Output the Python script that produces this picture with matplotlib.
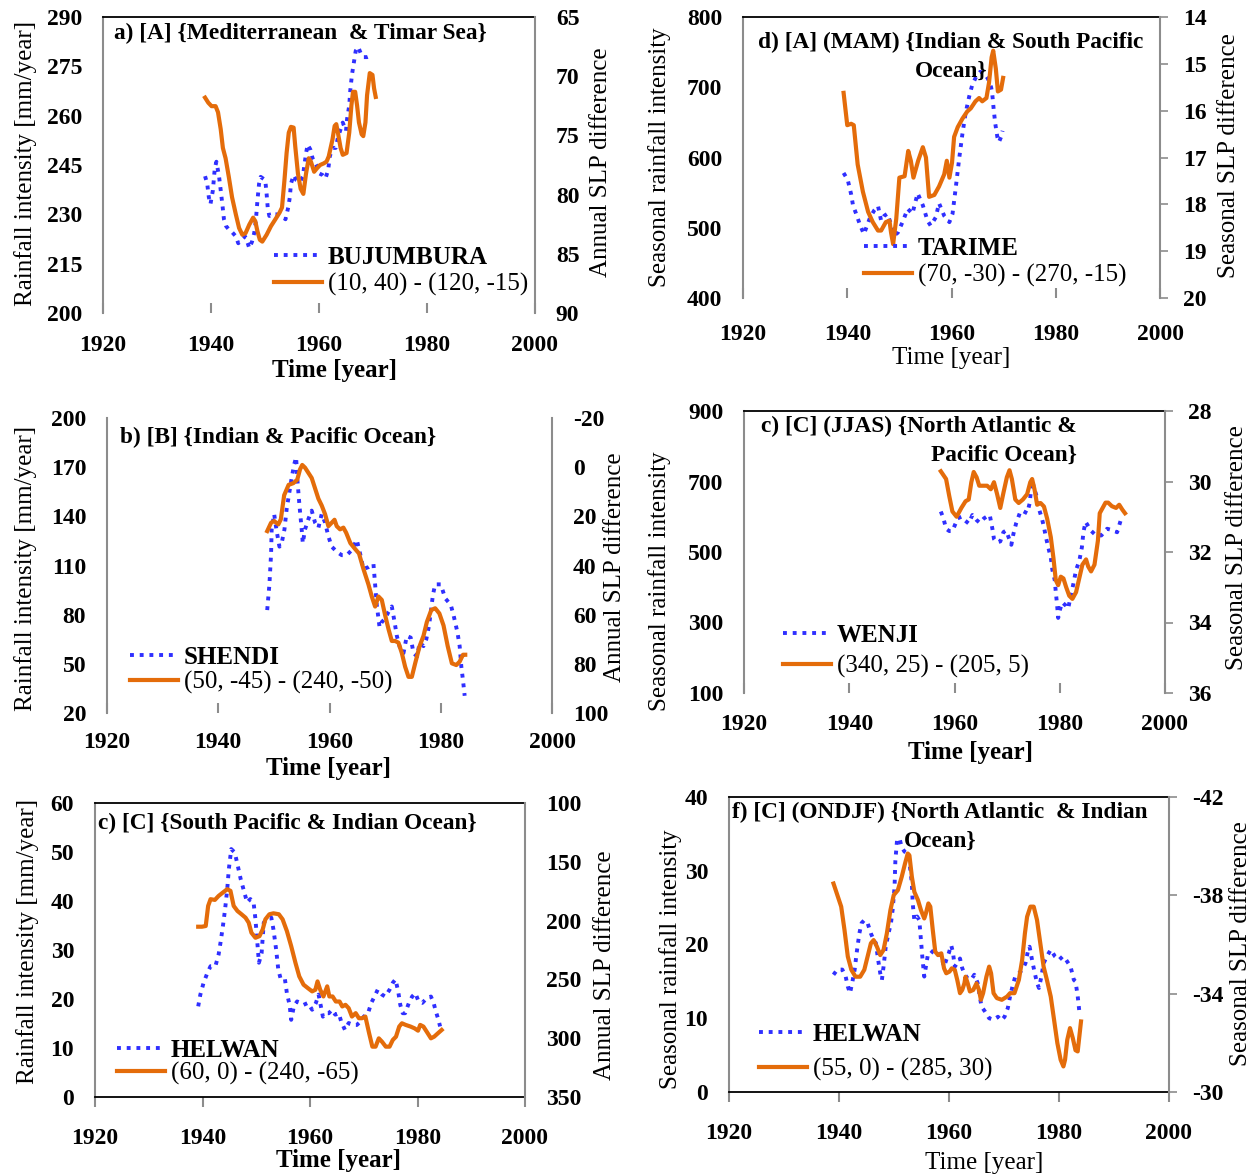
import numpy as np
import matplotlib
matplotlib.use('Agg')
import matplotlib.pyplot as plt

plt.rcParams['font.family'] = ['Liberation Serif', 'DejaVu Serif']
plt.rcParams['axes.unicode_minus'] = False

# ---- a) BUJUMBURA rainfall / SLP (10,40)-(120,-15)
a_blue_yr = [1938.9, 1939.3, 1939.6, 1939.9, 1940.35, 1940.7, 1941.0, 1941.5, 1941.8, 1942.1, 1942.4, 1942.8,
             1943.3, 1943.9, 1944.6, 1945.05, 1945.7, 1946.3, 1946.8, 1947.1, 1947.6, 1948.0, 1948.3, 1948.6,
             1948.9, 1949.2, 1950.05, 1950.3, 1950.5, 1950.8, 1951.4, 1952.1, 1953.0, 1953.8, 1954.3, 1954.6,
             1954.8, 1955.3, 1955.8, 1956.4, 1957.0, 1957.3, 1957.6, 1957.9, 1958.4, 1958.8, 1959.5, 1960.1,
             1960.7, 1961.2, 1961.7, 1962.0, 1962.5, 1963.1, 1963.5, 1964.0, 1964.4, 1965.0, 1965.2, 1965.6,
             1965.8, 1966.1, 1966.5, 1966.8, 1967.25, 1967.7, 1968.2, 1968.9, 1969.4]
a_blue_val = [241.6, 239.3, 235.2, 233.1, 237.3, 244.0, 246.0, 241.4, 237.3, 233.1, 228.5, 226.4,
              225.4, 224.6, 223.3, 221.2, 222.3, 223.3, 221.2, 219.7, 221.7, 224.3, 228.0, 234.2,
              239.3, 241.4, 240.4, 236.2, 232.1, 229.5, 230.0, 230.0, 229.5, 228.5, 232.1, 235.2,
              239.3, 241.9, 240.4, 239.8, 241.4, 245.0, 248.6, 251.2, 249.7, 247.1, 245.0, 242.4,
              241.9, 240.9, 243.5, 247.6, 250.2, 250.2, 253.3, 255.9, 257.9, 255.4, 259.0, 263.1,
              267.8, 272.4, 276.6, 279.7, 280.9, 279.1, 277.8, 277.8, 278.1]
a_orange_yr = [1938.9, 1939.5, 1940.1, 1940.85, 1941.3, 1941.8, 1942.2, 1942.7, 1943.3, 1943.9, 1944.6, 1945.2,
               1945.8, 1946.4, 1947.1, 1947.8, 1948.2, 1948.6, 1949.05, 1949.5, 1950.3, 1951.1, 1951.9, 1952.7,
               1953.15, 1953.6, 1954.0, 1954.4, 1954.8, 1955.3, 1955.6, 1956.1, 1956.6, 1957.1, 1957.6, 1958.1,
               1958.5, 1959.1, 1959.6, 1960.2, 1960.9, 1961.4, 1961.8, 1962.5, 1962.9, 1963.2, 1963.5, 1964.0,
               1964.4, 1965.1, 1965.6, 1966.0, 1966.3, 1966.7, 1967.05, 1967.4, 1967.9, 1968.2, 1968.6, 1968.9,
               1969.4, 1969.9, 1970.2, 1970.5]
a_orange_val = [71.81, 72.24, 72.53, 72.53, 73.05, 74.48, 76.06, 76.93, 78.51, 80.23, 81.67, 82.82,
                83.39, 83.25, 82.53, 81.95, 82.24, 83.1, 83.82, 83.97, 83.39, 82.67, 82.1, 81.52,
                81.09, 78.79, 76.49, 74.77, 74.28, 74.34, 75.92, 78.22, 79.51, 79.94, 78.22, 76.93,
                77.21, 78.07, 77.79, 77.5, 77.36, 77.21, 76.78, 75.34, 74.2, 74.05, 74.77, 76.06,
                76.64, 76.49, 74.77, 72.47, 71.32, 71.32, 72.47, 73.91, 74.91, 75.06, 73.91, 71.61,
                69.74, 69.89, 71.03, 71.75]

# ---- d) TARIME (MAM) / SLP (70,-30)-(270,-15)
d_blue_yr = [1939.3, 1940.1, 1940.75, 1941.1, 1941.7, 1942.5, 1943.2, 1943.8, 1944.4, 1945.2, 1945.9, 1946.5,
             1947.1, 1947.7, 1948.4, 1949.0, 1949.7, 1950.6, 1951.6, 1952.5, 1953.5, 1954.5, 1955.4, 1956.0,
             1957.0, 1957.6, 1958.6, 1959.6, 1960.2, 1960.8, 1961.5, 1962.1, 1962.7, 1963.4, 1964.0, 1964.8,
             1965.5, 1966.3, 1967.0, 1967.6, 1967.8, 1968.1, 1968.4, 1968.8, 1969.1, 1969.5, 1969.8]
d_blue_val = [578, 568, 547.5, 532, 520, 503, 491, 503, 515, 525, 531, 510,
              517, 520, 505, 489, 493, 508, 527, 520, 549, 532, 510, 503,
              515, 535, 517, 508, 520, 556, 600, 634, 663, 687, 704, 716,
              722, 720, 712, 700, 692, 668, 648, 629, 622, 629, 638]
d_orange_yr = [1939.3, 1940.0, 1940.75, 1941.25, 1942.0, 1943.0, 1944.0, 1944.9, 1945.9, 1946.5, 1947.4, 1948.1,
               1948.4, 1948.8, 1949.4, 1950.0, 1951.0, 1951.7, 1952.2, 1952.7, 1953.6, 1954.5, 1955.1, 1955.7,
               1956.7, 1957.6, 1958.6, 1959.1, 1959.6, 1960.1, 1960.5, 1961.2, 1962.1, 1963.0, 1963.7, 1964.6,
               1965.3, 1965.9, 1966.7, 1967.2, 1967.7, 1968.0, 1968.5, 1968.9, 1969.5, 1969.9]
d_orange_val = [15.62, 16.31, 16.28, 16.31, 17.15, 17.73, 18.16, 18.38, 18.56, 18.56, 18.38, 18.35,
                18.6, 18.85, 18.31, 17.43, 17.4, 16.86, 17.07, 17.43, 17.07, 16.78, 17.0, 17.84,
                17.8, 17.62, 17.36, 17.07, 17.43, 17.11, 16.56, 16.35, 16.17, 16.02, 15.95, 15.8,
                15.73, 15.8, 15.73, 15.4, 14.86, 14.72, 15.1, 15.59, 15.55, 15.3]

# ---- b) SHENDI / SLP (50,-45)-(240,-50)
b_blue_yr = [1948.8, 1949.2, 1949.5, 1949.6, 1950.05, 1950.5, 1951.0, 1951.4, 1951.9, 1952.3, 1952.8, 1953.2,
             1953.65, 1954.0, 1954.2, 1954.6, 1955.0, 1955.2, 1955.6, 1956.2, 1956.8, 1957.4, 1958.0, 1958.6,
             1959.2, 1959.8, 1960.4, 1961.3, 1962.2, 1963.1, 1964.0, 1964.9, 1965.5, 1966.1, 1967.0, 1967.9,
             1968.2, 1968.5, 1969.0, 1969.4, 1970.0, 1970.6, 1971.2, 1971.7, 1972.1, 1972.75, 1973.3, 1973.9,
             1974.6, 1975.1, 1975.75, 1976.2, 1976.9, 1977.4, 1977.9, 1978.3, 1978.6, 1979.0, 1980.0, 1980.8,
             1981.8, 1982.3, 1983.0, 1983.4, 1983.7, 1984.0, 1984.3]
b_blue_val = [82.8, 98.5, 117.3, 132, 141.4, 131, 121.5, 123.6, 132, 144.5, 155, 163.4,
              171.7, 176, 163.4, 146.6, 132, 123.6, 132, 138.3, 143.5, 136.2, 133, 141.4,
              136.2, 127.8, 121.5, 118.4, 116.3, 116.3, 119.4, 125.7, 117.3, 107.9, 109, 111,
              98.5, 85.9, 72.3, 75.5, 77.6, 81.7, 85, 75.5, 67.1, 58.7, 56.6, 67,
              66, 56.6, 54.5, 62.9, 60.8, 65, 73.4, 84, 92.2, 98.5, 98.5, 90,
              86, 79.7, 69.2, 60.8, 48.3, 39.9, 30.5]
b_orange_yr = [1948.8, 1949.5, 1950.05, 1950.8, 1951.25, 1951.85, 1952.65, 1953.5, 1954.2, 1954.7, 1955.1, 1955.6,
               1956.2, 1956.8, 1957.4, 1958.0, 1958.6, 1959.2, 1959.8, 1960.4, 1960.9, 1961.3, 1961.9, 1962.5,
               1963.0, 1963.75, 1964.5, 1965.3, 1966.1, 1967.0, 1967.6, 1968.2, 1968.8, 1969.4, 1970.0, 1970.6,
               1971.2, 1971.8, 1972.4, 1973.0, 1973.6, 1974.2, 1974.8, 1975.4, 1976.2, 1976.9, 1977.5, 1978.3,
               1979.0, 1979.75, 1980.5, 1981.25, 1982.0, 1982.8, 1983.4, 1984.0, 1984.4]
b_orange_val = [26.0, 22.6, 21.9, 23.3, 21.2, 11.4, 7.2, 6.5, 5.1, 0.9, -0.9, 0.2,
                2.3, 4.4, 8.6, 12.8, 15.6, 19.1, 24.0, 22.6, 21.4, 24.0, 25.3, 24.6,
                26.7, 30.9, 33.0, 35.1, 41.4, 47.7, 52.6, 56.7, 52.6, 54.0, 60.2, 65.8,
                70.7, 70.7, 71.4, 75.6, 81.2, 85.3, 85.3, 79.8, 72.8, 68.6, 63.0, 58.1,
                57.4, 59.5, 64.4, 72.8, 79.8, 80.5, 79.1, 76.3, 76.3]

# ---- c) WENJI (JJAS) / SLP (340,25)-(205,5)
c_blue_yr = [1957.4, 1957.9, 1958.4, 1959.0, 1959.6, 1960.2, 1960.6, 1961.3, 1961.9, 1962.7, 1963.4, 1964.2,
             1964.8, 1965.6, 1966.1, 1966.7, 1967.2, 1967.5, 1968.0, 1968.7, 1969.3, 1969.8, 1970.4, 1970.8,
             1971.2, 1971.7, 1972.4, 1972.8, 1973.8, 1974.3, 1974.6, 1974.75, 1975.2, 1975.6, 1976.0, 1976.6,
             1977.0, 1977.3, 1977.75, 1978.3, 1978.6, 1979.05, 1979.25, 1979.45, 1979.7, 1980.06, 1980.5, 1981.2,
             1981.6, 1982.1, 1982.6, 1983.1, 1983.7, 1984.2, 1984.5, 1984.9, 1985.3, 1985.9, 1986.9, 1987.9,
             1989.0, 1990.2, 1990.9, 1991.7, 1992.1]
c_blue_val = [614.8, 595.4, 566, 559.4, 559.4, 580.8, 595.4, 600, 590.5, 580.8, 605, 590.5,
              582.7, 595.4, 600.2, 605, 566, 537, 527.3, 530, 556.4, 561, 537, 520.4,
              551.6, 580.8, 610, 617.8, 610, 639.2, 687.8, 702.4, 678, 658.6, 624.6, 595.4,
              571, 546.7, 517.5, 483.4, 449.4, 420, 386, 357, 313, 337.5, 357, 347.2,
              339.4, 376.4, 410.5, 449.4, 473.7, 512.7, 556.4, 585.6, 576, 561, 546.7, 547,
              566, 561, 556, 595.5, 600]
c_orange_yr = [1957.4, 1958.4, 1959.0, 1959.6, 1960.4, 1961.3, 1962.1, 1962.7, 1963.2, 1963.65, 1964.2, 1964.7,
               1965.4, 1966.2, 1966.9, 1967.5, 1968.1, 1968.7, 1969.3, 1969.95, 1970.45, 1970.9, 1971.55, 1972.2,
               1973.0, 1973.8, 1974.4, 1974.75, 1975.2, 1975.7, 1976.35, 1977.0, 1977.6, 1978.3, 1978.8, 1979.25,
               1979.7, 1980.2, 1980.7, 1981.2, 1981.8, 1982.4, 1983.1, 1983.7, 1984.3, 1985.0, 1985.4, 1985.95,
               1986.6, 1987.25, 1987.6, 1988.7, 1989.2, 1989.9, 1990.7, 1991.3, 1991.9, 1992.4]
c_orange_val = [29.71, 29.93, 30.41, 30.85, 31.0, 30.75, 30.56, 30.51, 30.02, 29.73, 29.88, 30.12,
                30.12, 30.12, 30.22, 30.02, 30.36, 30.75, 30.32, 29.88, 29.68, 29.93, 30.51, 30.61,
                30.51, 30.36, 30.02, 29.93, 30.22, 30.66, 30.61, 30.71, 31.05, 31.58, 32.17, 32.8,
                32.94, 32.7, 32.75, 32.99, 33.24, 33.33, 33.14, 32.75, 32.36, 32.21, 32.41, 32.55,
                32.36, 31.68, 30.9, 30.6, 30.6, 30.7, 30.75, 30.66, 30.8, 30.9]

# ---- e) HELWAN annual / SLP (60,0)-(240,-65)
e_blue_yr = [1939.2, 1939.6, 1940.2, 1940.9, 1941.5, 1942.4, 1943.0, 1943.35, 1943.8, 1944.2, 1944.6, 1944.9,
             1945.35, 1946.0, 1946.5, 1947.1, 1947.7, 1948.3, 1948.9, 1949.5, 1949.85, 1950.15, 1950.5, 1951.0,
             1951.4, 1952.0, 1952.8, 1953.2, 1953.7, 1954.1, 1954.5, 1955.3, 1955.7, 1956.2, 1956.5, 1957.0,
             1957.6, 1958.2, 1958.8, 1959.6, 1960.4, 1961.1, 1961.6, 1961.9, 1962.4, 1962.9, 1963.5, 1964.1,
             1964.7, 1965.35, 1965.8, 1966.5, 1967.2, 1968.0, 1968.7, 1969.4, 1970.0, 1970.8, 1971.4, 1972.0,
             1972.6, 1973.4, 1974.0, 1974.8, 1975.4, 1975.9, 1976.4, 1976.8, 1977.25, 1977.7, 1978.4, 1979.0,
             1979.6, 1980.2, 1980.9, 1981.75, 1982.5, 1983.0, 1983.4, 1983.9, 1984.2]
e_blue_val = [18.5, 20.9, 23.3, 25.3, 26.7, 26.7, 29.1, 31.5, 34.9, 38.3, 42.4, 46.5,
              50.6, 49.9, 47.5, 44.5, 42.1, 39.7, 40.4, 39.7, 36.3, 32.2, 27.4, 29.4,
              35.6, 36.3, 36.6, 34.2, 30.1, 26.0, 24.3, 24.3, 21.2, 18.8, 15.75, 18.5,
              19.5, 19.2, 18.8, 19.2, 17.8, 19.2, 20.9, 19.2, 16.4, 17.1, 17.1, 17.8,
              16.8, 17.1, 15.4, 13.7, 15.1, 14.7, 14.7, 15.4, 16.4, 17.1, 19.2, 20.5,
              21.9, 20.9, 20.5, 21.9, 23.3, 24.0, 21.6, 18.8, 17.1, 17.1, 19.2, 20.5,
              21.2, 19.5, 19.2, 20.2, 20.5, 19.2, 17.5, 15.75, 14.4]
e_orange_yr = [1939.2, 1939.9, 1940.6, 1941.05, 1941.5, 1942.3, 1943.0, 1943.8, 1944.6, 1945.2, 1945.8, 1946.5,
               1947.25, 1948.0, 1948.6, 1949.1, 1949.85, 1950.6, 1951.2, 1951.7, 1952.45, 1953.2, 1954.2, 1954.9,
               1955.7, 1956.5, 1957.3, 1958.0, 1958.8, 1959.6, 1960.4, 1961.0, 1961.4, 1961.9, 1962.5, 1963.2,
               1963.6, 1964.2, 1964.8, 1965.5, 1966.0, 1966.6, 1967.2, 1967.8, 1968.5, 1969.1, 1969.7, 1970.3,
               1971.0, 1971.6, 1972.2, 1972.8, 1973.4, 1974.1, 1974.8, 1975.4, 1976.0, 1976.6, 1977.1, 1977.8,
               1978.7, 1979.45, 1980.1, 1980.5, 1981.1, 1981.9, 1982.5, 1983.1, 1983.8, 1984.5]
e_orange_val = [205.2, 205.2, 204.6, 187.5, 181.8, 182.4, 179.0, 176.1, 173.3, 174.7, 187.5, 191.8,
                194.6, 197.5, 201.8, 210.3, 214.6, 213.2, 207.5, 198.9, 194.6, 193.8, 194.6, 198.9,
                208.9, 221.7, 236.0, 247.4, 254.5, 257.4, 260.2, 258.8, 251.7, 258.8, 264.5, 255.9,
                264.5, 264.5, 268.8, 268.8, 273.0, 271.6, 274.5, 281.6, 278.7, 283.0, 283.0, 281.6,
                295.8, 307.2, 307.2, 300.1, 303.0, 307.2, 307.2, 301.5, 298.7, 290.1, 287.3, 288.7,
                290.1, 291.6, 293.6, 288.7, 290.1, 295.8, 300.1, 298.7, 295.8, 293.0]

# ---- f) HELWAN (ONDJF) / SLP (55,0)-(285,30)
f_blue_yr = [1939.0, 1939.7, 1940.6, 1941.2, 1941.6, 1942.0, 1942.4, 1942.85, 1943.2, 1943.7, 1944.1, 1944.6,
             1945.2, 1945.8, 1946.3, 1946.7, 1947.1, 1947.5, 1947.8, 1948.1, 1948.5, 1949.0, 1949.45, 1949.75,
             1950.1, 1950.25, 1950.55, 1951.0, 1951.4, 1951.9, 1952.5, 1952.9, 1953.25, 1953.4, 1953.7, 1954.2,
             1954.6, 1954.9, 1955.2, 1955.5, 1955.8, 1956.2, 1956.7, 1957.3, 1958.0, 1958.6, 1959.1, 1959.5,
             1959.95, 1960.4, 1960.7, 1961.05, 1961.5, 1962.0, 1962.4, 1962.9, 1963.4, 1964.0, 1964.6, 1965.2,
             1965.9, 1966.55, 1967.3, 1968.1, 1968.9, 1969.5, 1970.1, 1970.7, 1971.1, 1971.6, 1972.05, 1972.7,
             1973.3, 1973.9, 1974.4, 1974.65, 1975.1, 1975.6, 1976.0, 1976.35, 1976.8, 1977.2, 1977.8, 1978.5,
             1979.25, 1980.0, 1980.7, 1981.3, 1982.1, 1982.7, 1983.0, 1983.4, 1983.7, 1984.0]
f_blue_val = [15.9, 16.6, 16.6, 15.7, 14.3, 13.4, 14.8, 16.6, 18.8, 21.5, 22.9, 23.3,
              22.9, 21.5, 20.6, 20.2, 18.0, 16.1, 15.2, 17.0, 19.7, 21.5, 22.9, 24.7,
              27.8, 31.4, 34.1, 34.4, 33.2, 32.6, 32.3, 30.5, 28.3, 25.6, 23.3, 23.8,
              23.3, 20.6, 17.9, 15.65, 17.0, 18.8, 18.8, 19.3, 18.8, 18.4, 17.0, 17.9,
              18.8, 19.9, 19.0, 17.0, 17.5, 18.1, 16.8, 15.9, 15.4, 15.2, 15.9, 14.8,
              11.6, 10.9, 10.0, 9.8, 10.2, 9.7, 10.2, 11.4, 12.95, 14.5, 15.65, 16.1,
              16.55, 17.45, 19.3, 19.7, 17.9, 16.1, 14.8, 14.1, 15.65, 17.45, 18.4, 19.3,
              18.4, 17.9, 18.4, 17.9, 17.0, 15.2, 15.0, 13.0, 10.9, 10.5]
f_orange_yr = [1939.0, 1939.7, 1940.4, 1941.0, 1941.6, 1942.25, 1943.0, 1943.85, 1944.6, 1945.2, 1945.8, 1946.3,
               1946.9, 1947.5, 1948.1, 1948.7, 1949.35, 1949.95, 1950.7, 1951.4, 1952.0, 1952.5, 1952.8, 1953.25,
               1953.7, 1954.35, 1954.9, 1955.5, 1955.8, 1956.25, 1956.6, 1957.05, 1957.5, 1958.0, 1958.6, 1959.1,
               1959.5, 1960.1, 1960.5, 1961.05, 1961.5, 1962.0, 1962.4, 1962.8, 1963.0, 1963.4, 1963.8, 1964.4,
               1965.0, 1965.45, 1965.8, 1966.2, 1966.8, 1967.3, 1967.65, 1968.1, 1968.7, 1969.6, 1970.55, 1971.1,
               1971.9, 1972.7, 1973.3, 1973.8, 1974.2, 1974.8, 1975.4, 1976.0, 1976.6, 1977.2, 1977.8, 1978.5,
               1979.1, 1979.7, 1980.3, 1980.8, 1981.1, 1981.5, 1982.0, 1982.5, 1983.0, 1983.4, 1984.0]
f_orange_val = [-38.48, -38.01, -37.54, -36.59, -35.51, -34.97, -34.69, -34.69, -34.97, -35.51, -36.05, -36.18,
                -35.91, -35.57, -35.78, -36.45, -37.40, -38.01, -38.21, -38.75, -39.29, -39.70, -39.63, -38.75,
                -38.14, -37.81, -37.40, -37.06, -37.27, -37.67, -37.54, -36.59, -35.71, -35.57, -35.64, -35.03,
                -34.83, -34.90, -35.03, -34.97, -34.56, -34.02, -34.15, -34.42, -34.69, -34.42, -34.09, -34.15,
                -34.42, -34.15, -33.75, -34.02, -34.69, -35.10, -34.83, -34.02, -33.82, -33.75, -33.88, -34.02,
                -34.02, -34.56, -35.37, -36.45, -37.13, -37.54, -37.54, -37.0, -36.05, -35.10, -34.56, -33.88,
                -32.94, -31.99, -31.31, -31.04, -31.31, -32.12, -32.6, -32.2, -31.7, -31.65, -32.87]

W, H = 1255, 1176
fig = plt.figure(figsize=(W / 100, H / 100), dpi=100)

BLUE = '#2F2FFF'
ORANGE = '#E46C0A'
GREY = '#8c8c8c'


def frac(box, x, y):
    l, t, r, b = box
    return (x - l) / (r - l), (b - y) / (b - t)


def panel(box, xb, yb, xo, yo, lticks, rlim, rticks, ylab, ylab_pos, ylab2, ylab2_pos,
          xlab_pos, xlab_bold, title, title_pos, title_ha, names, leg_pos, leg_gap,
          top=True, bottom=False, rtick=0, xdir='in', xpad=16):
    l, t, r, b = box
    ax = fig.add_axes([l / W, 1 - b / H, (r - l) / W, (b - t) / H])
    ax2 = ax.twinx()
    ln1, = ax.plot(xb, yb, color=BLUE, lw=2.8, ls=(0, (1, 1.5)))
    ln2, = ax2.plot(xo, yo, color=ORANGE, lw=3, solid_joinstyle='round')

    ax.set_xlim(1920, 2000)
    ax.set_xticks(range(1920, 2001, 20), [str(v) for v in range(1920, 2001, 20)],
                  fontsize=17, fontweight='bold')
    ax.set_ylim(lticks[0], lticks[-1])
    ax.set_yticks(lticks, [f'{v:g}' for v in lticks], fontsize=17, fontweight='bold')
    ax2.set_ylim(rlim)
    ax2.set_yticks(rticks, [f'{v:g}' for v in rticks], fontsize=17, fontweight='bold')

    ax.tick_params(axis='y', length=0, pad=15)
    ax.tick_params(axis='x', direction=xdir, length=7, color=GREY, width=1.5, pad=xpad)
    ax2.tick_params(axis='y', length=rtick, width=1.2, color=GREY, direction='out',
                    pad=15 - rtick * 0.72)

    for sp in ['top', 'bottom', 'left', 'right']:
        ax2.spines[sp].set_visible(False)
    ax2.spines['right'].set_visible(True)
    ax2.spines['right'].set_color(GREY)
    ax2.spines['right'].set_linewidth(1.5)
    ax.spines['right'].set_visible(False)
    ax.spines['left'].set_color(GREY)
    ax.spines['left'].set_linewidth(1.5)
    ax.spines['top'].set_visible(top)
    ax.spines['top'].set_linewidth(1.3)
    ax.spines['bottom'].set_visible(bottom)
    ax.spines['bottom'].set_linewidth(1.3)

    ax.set_ylabel(ylab, fontsize=18)
    ax.yaxis.set_label_coords(*frac(box, *ylab_pos))
    ax.yaxis.label.set_va('center')
    ax2.set_ylabel(ylab2, fontsize=18)
    ax2.yaxis.set_label_coords(*frac(box, *ylab2_pos))
    ax2.yaxis.label.set_va('center')
    ax.set_xlabel('Time [year]', fontsize=18, fontweight='bold' if xlab_bold else 'normal')
    ax.xaxis.set_label_coords(*frac(box, *xlab_pos))
    ax.xaxis.label.set_va('center')

    ax2.text(*frac(box, *title_pos), title, transform=ax.transAxes, ha=title_ha, va='center',
             fontsize=16.8, fontweight='bold', linespacing=1.5, multialignment=title_ha)

    leg = ax2.legend([ln1, ln2], names, loc='center left', bbox_to_anchor=frac(box, *leg_pos),
                     frameon=False, fontsize=18, handlelength=1.9, handletextpad=0.25,
                     borderpad=0, borderaxespad=0, labelspacing=leg_gap)
    leg.get_texts()[0].set_fontweight('bold')
    return ax, ax2


panel((103, 17, 535, 313), a_blue_yr, a_blue_val, a_orange_yr, a_orange_val,
      [200, 215, 230, 245, 260, 275, 290], (90, 65), [65, 70, 75, 80, 85, 90],
      'Rainfall intensity [mm/year]', (26, 163), 'Annual SLP difference', (601, 162),
      (334, 370), True, 'a) [A] {Mediterranean  & Timar Sea}', (114, 33), 'left',
      ['BUJUMBURA', '(10, 40) - (120, -15)'], (274, 271), 0.18)

panel((743, 17, 1160, 298), d_blue_yr, d_blue_val, d_orange_yr, d_orange_val,
      [400, 500, 600, 700, 800], (20, 14), [14, 15, 16, 17, 18, 19, 20],
      'Seasonal rainfall intensity', (660, 157), 'Seasonal SLP difference', (1229, 156),
      (951, 358), False, 'd) [A] (MAM) {Indian & South Pacific\nOcean}', (951, 57), 'center',
      ['TARIME', '(70, -30) - (270, -15)'], (864, 262), 0.18, rtick=6, xpad=19)

panel((107, 418, 552, 713), b_blue_yr, b_blue_val, b_orange_yr, b_orange_val,
      [20, 50, 80, 110, 140, 170, 200], (100, -20), [-20, 0, 20, 40, 60, 80, 100],
      'Rainfall intensity [mm/year]', (26, 568), 'Annual SLP difference', (615, 567),
      (328, 769), True, 'b) [B] {Indian & Pacific Ocean}', (120, 437), 'left',
      ['SHENDI', '(50, -45) - (240, -50)'], (130, 670), 0.06, top=False, xpad=14)

panel((744, 411, 1165, 693), c_blue_yr, c_blue_val, c_orange_yr, c_orange_val,
      [100, 300, 500, 700, 900], (36, 28), [28, 30, 32, 34, 36],
      'Seasonal rainfall intensity', (660, 581), 'Seasonal SLP difference', (1237, 548),
      (970, 752), True, 'c) [C] (JJAS) {North Atlantic &\nPacific Ocean}', (1077, 441), 'right',
      ['WENJI', '(340, 25) - (205, 5)'], (783, 651), 0.34, rtick=6, xpad=15)

panel((95, 803, 525, 1097), e_blue_yr, e_blue_val, e_orange_yr, e_orange_val,
      [0, 10, 20, 30, 40, 50, 60], (350, 100), [100, 150, 200, 250, 300, 350],
      'Rainfall intensity [mm/year]', (28, 941), 'Annual SLP difference', (605, 965),
      (339, 1160), True, 'c) [C] {South Pacific & Indian Ocean}', (98, 823), 'left',
      ['HELWAN', '(60, 0) - (240, -65)'], (117, 1062), 0.03,
      bottom=True, xdir='out', xpad=15)

panel((729, 797, 1169, 1092), f_blue_yr, f_blue_val, f_orange_yr, f_orange_val,
      [0, 10, 20, 30, 40], (-30, -42), [-42, -38, -34, -30],
      'Seasonal rainfall intensity', (671, 959), 'Seasonal SLP difference', (1241, 944),
      (984, 1163), False, 'f) [C] (ONDJF) {North Atlantic  & Indian\nOcean}', (940, 827), 'center',
      ['HELWAN', '(55, 0) - (285, 30)'], (759, 1052), 0.46,
      rtick=6, bottom=True, xdir='out', xpad=15)

fig.savefig('out.png', dpi=100)
